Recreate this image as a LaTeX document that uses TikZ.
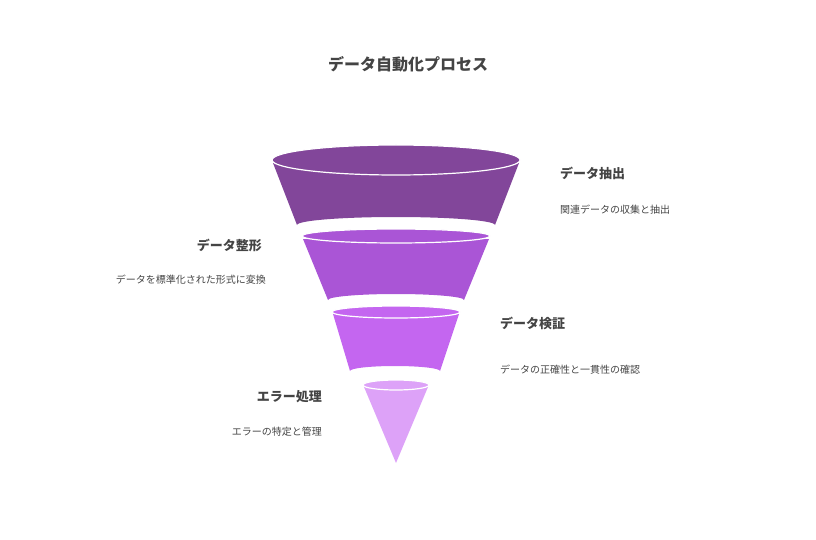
\documentclass[tikz,border=0pt]{standalone}
\usepackage{fontspec}
\setmainfont{Noto Sans CJK JP}
\usetikzlibrary{positioning}
\definecolor{stepa}{RGB}{130,70,154}
\definecolor{stepb}{RGB}{170,85,214}
\definecolor{stepc}{RGB}{196,102,240}
\definecolor{stepd}{RGB}{221,162,248}
\definecolor{txt}{RGB}{68,68,68}
\tikzset{
  heading/.style={inner sep=0, text=txt, font=\bfseries\fontsize{13}{15}\selectfont},
  desc/.style={inner sep=0, text=txt, font=\fontsize{10}{12}\selectfont},
  rim/.style={draw=white, line width=1.2pt}
}
\begin{document}
\begin{tikzpicture}[x=1pt,y=-1pt]
\useasboundingbox (0,0) rectangle (816,540);

\node [heading, font=\bfseries\fontsize{16}{18}\selectfont] (title) at (408,64) {データ自動化プロセス};

% funnel segments
\fill[stepa] (273,163) -- (297,225) arc[start angle=180,end angle=360,x radius=99,y radius=8] -- (519,163) -- cycle;
\draw[rim, fill=stepa] (396,160) ellipse[x radius=124,y radius=15];

\fill[stepb] (303,239) -- (328,300) arc[start angle=180,end angle=360,x radius=68,y radius=6] -- (489,239) -- cycle;
\draw[rim, fill=stepb] (396,236) ellipse[x radius=94,y radius=7];

\fill[stepc] (333,314) -- (350,371) arc[start angle=180,end angle=360,x radius=45,y radius=5] -- (459,314) -- cycle;
\draw[rim, fill=stepc] (396,312) ellipse[x radius=64,y radius=6];

\fill[stepd] (364,387) -- (396,463) -- (428,387) -- cycle;
\draw[rim, fill=stepd] (396,385) ellipse[x radius=33,y radius=5];

% labels
\node [heading, anchor=west] (extract) at (560,173) {データ抽出};
\node [desc, anchor=west] (extractd) at (560,210) {関連データの収集と抽出};
\node [heading, anchor=east] (shape) at (262,245) {データ整形};
\node [desc, anchor=east] (shaped) at (266,280) {データを標準化された形式に変換};
\node [heading, anchor=west] (verify) at (500,323) {データ検証};
\node [desc, anchor=west] (verifyd) at (500,370) {データの正確性と一貫性の確認};
\node [heading, anchor=east] (error) at (322,397) {エラー処理};
\node [desc, anchor=east] (errord) at (322,432) {エラーの特定と管理};

\end{tikzpicture}
\end{document}
